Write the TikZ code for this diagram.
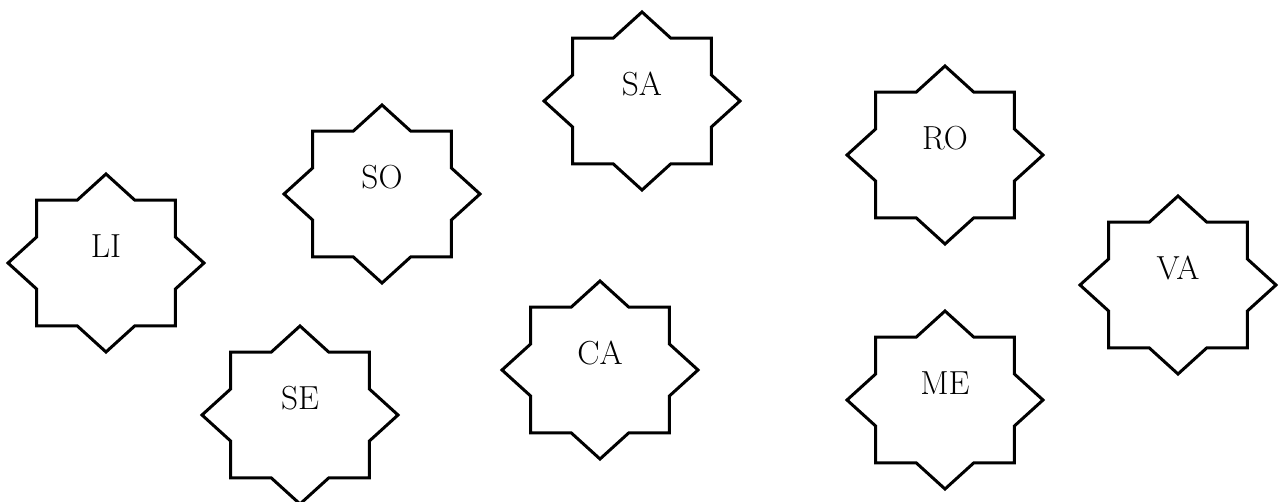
\documentclass[tikz,border=0pt]{standalone}
\usepackage{tikz}

\tikzset{
  starline/.style={draw, black, line width=2.25pt, line join=miter},
  starlabel/.style={font=\fontsize{25}{30}\selectfont, inner sep=0pt}
}

% eight-pointed star round a centre, with its label a little above the middle
\newcommand{\octstar}[3]{%
  \coordinate (#1) at (#2);
  \draw[starline] ([shift={(#1)}]98,0)
    \foreach \i [evaluate=\i as \rx using {98*(1-0.2346*mod(\i,2))*cos(\i*22.5)},
                 evaluate=\i as \ry using {89*(1-0.2346*mod(\i,2))*sin(\i*22.5)}] in {1,...,15}
      { -- ([shift={(#1)}]\rx,\ry) } -- cycle;
  \node[starlabel] (#1-label) at ([shift={(0,-17)}]#1) {#3};
}

\begin{document}
\begin{tikzpicture}[x=0.75pt, y=-0.75pt]
\useasboundingbox (0,0) rectangle (1282,502);

\octstar{li}{106,263}{LI}
\octstar{so}{382,194}{SO}
\octstar{se}{300,415}{SE}
\octstar{sa}{642,101}{SA}
\octstar{ca}{600,370}{CA}
\octstar{ro}{945,155}{RO}
\octstar{me}{945,400}{ME}
\octstar{va}{1178,285}{VA}

\end{tikzpicture}
\end{document}
